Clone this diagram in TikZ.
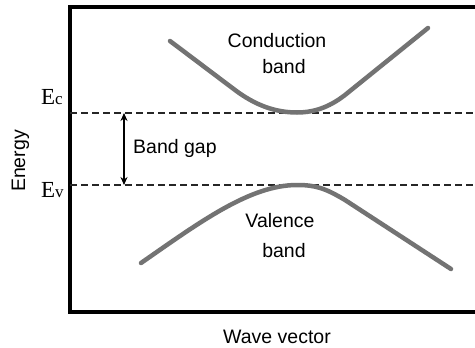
\documentclass[tikz,border=0pt]{standalone}
\usepackage{fontspec}
\setsansfont{Liberation Sans}
\newfontfamily\lvlfont{Liberation Serif}
\usetikzlibrary{arrows.meta}

\begin{document}
\begin{tikzpicture}[
  x=1pt, y=-1pt,
  >={Stealth[length=8pt, width=7pt]},
  frameline/.style={line width=3.5pt, black, line join=miter},
  lvlline/.style={line width=1.4pt, black!85, dash pattern=on 7pt off 4pt},
  bandcurve/.style={line width=4.5pt, black!55, line cap=round},
  txt/.style={font=\sffamily\fontsize{19.5}{20}\selectfont, inner sep=0pt},
  lvl/.style={font=\lvlfont\fontsize{23}{23}\selectfont, inner sep=0pt, anchor=base west},
]
\useasboundingbox (0,0) rectangle (475,348);

% ---- frame (open on the right) ---------------------------------------------
\draw[frameline] (475,7) -- (70,7) -- (70,312) -- (475,312);

% ---- band edges ------------------------------------------------------------
\coordinate (ecL) at (70,113);  \coordinate (ecR) at (475,113);
\coordinate (evL) at (70,185);  \coordinate (evR) at (475,185);
\draw[lvlline] (ecL) -- (ecR);
\draw[lvlline] (evL) -- (evR);

\node[lvl] (ec) at (41,104) {E{\fontsize{17}{17}\selectfont c}};
\node[lvl] (ev) at (41,197) {E{\fontsize{17}{17}\selectfont v}};

% ---- dispersion curves -----------------------------------------------------
\draw[bandcurve] (170,41) -- (235,90) .. controls (255,105) and (275,112.5) .. (297,112.5)
      .. controls (317,112.5) and (332,105) .. (345,95) -- (428,28);
\draw[bandcurve] (141,263) .. controls (200,222) and (250,185) .. (297,185)
      .. controls (315,185) and (325,188) .. (345,200) -- (451,269);

% ---- gap marker ------------------------------------------------------------
\coordinate (gaptop) at (124,113);
\coordinate (gapbot) at (124,185);
\draw[<->, line width=1.1pt] (gaptop) -- (gapbot);
\node[txt, anchor=base west] (gap) at (133,153) {Band gap};

% ---- labels ----------------------------------------------------------------
\node[txt, anchor=base] (cbtop) at (277,47)  {Conduction};
\node[txt, anchor=base] (cbbot) at (284,74)  {band};
\node[txt, anchor=base] (vbtop) at (280,227) {Valence};
\node[txt, anchor=base] (vbbot) at (284,257) {band};
\node[txt, anchor=base] (xlab)  at (277,343) {Wave vector};
\node[txt, anchor=base, rotate=90] (ylab) at (25,161) {Energy};
\end{tikzpicture}
\end{document}
